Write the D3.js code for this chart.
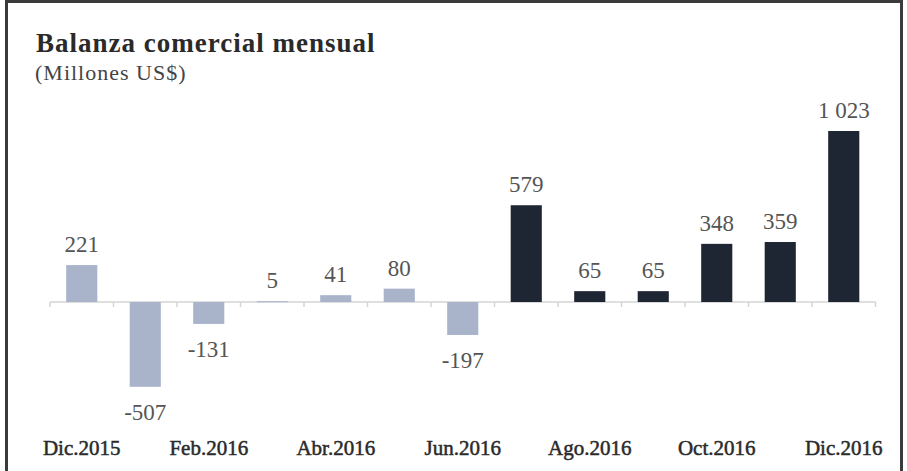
<!DOCTYPE html>
<html>
<head>
<meta charset="utf-8">
<script src="https://cdn.jsdelivr.net/npm/d3@7"></script>
<style>
  body { margin: 0; background: #fff; }
</style>
</head>
<body>
<div id="chart"></div>
<script>
// months shown on the chart, one bar per month
const months = ["Dic.2015", "Ene.2016", "Feb.2016", "Mar.2016", "Abr.2016", "May.2016", "Jun.2016",
                "Jul.2016", "Ago.2016", "Set.2016", "Oct.2016", "Nov.2016", "Dic.2016"];
const balance = [221, -507, -131, 5, 41, 80, -197, 579, 65, 65, 348, 359, 1023];
const valueLabels = ["221", "-507", "-131", "5", "41", "80", "-197", "579", "65", "65", "348", "359", "1 023"];
// only every other month is labelled on the axis
const tickLabels = ["Dic.2015", "Feb.2016", "Abr.2016", "Jun.2016", "Ago.2016", "Oct.2016", "Dic.2016"];
const darkFrom = 7; // bars from Jul.2016 on are dark

const width = 907, height = 471;

const svg = d3.select("#chart").append("svg")
    .attr("width", width)
    .attr("height", height);

// frame (no bottom side visible)
svg.append("path")
    .attr("d", "M6.5,471 V1.5 H901.5 V471")
    .attr("fill", "none")
    .attr("stroke", "#3a3a3a")
    .attr("stroke-width", 3);

svg.append("text")
    .attr("x", 36)
    .attr("y", 52)
    .style("font-family", "'Liberation Serif', serif")
    .style("font-weight", "bold")
    .style("font-size", "27px")
    .style("letter-spacing", "1px")
    .attr("fill", "#2a2a2a")
    .text("Balanza comercial mensual");

svg.append("text")
    .attr("x", 35)
    .attr("y", 80)
    .style("font-family", "'Liberation Serif', serif")
    .style("font-size", "22px")
    .style("letter-spacing", "1px")
    .attr("fill", "#444")
    .text("(Millones US$)");

const x = d3.scaleBand()
    .domain(months)
    .range([50, 875.5])
    .paddingInner(0.51)
    .paddingOuter(0.255);

const y = d3.scaleLinear()
    .domain([-507, 1023])
    .range([386.8, 131]);

const gap = x.step() - x.bandwidth();

// baseline with small ticks at category boundaries
svg.append("line")
    .attr("x1", x.range()[0]).attr("x2", x.range()[1])
    .attr("y1", y(0)).attr("y2", y(0))
    .attr("stroke", "#d4d4d4")
    .attr("stroke-width", 1.5);

const bounds = months.map(m => x(m) - gap / 2).concat([x.range()[1]]);
svg.selectAll(".tick")
    .data(bounds)
    .enter()
    .append("line")
    .attr("class", "tick")
    .attr("x1", d => d).attr("x2", d => d)
    .attr("y1", y(0)).attr("y2", y(0) + 5)
    .attr("stroke", "#d4d4d4")
    .attr("stroke-width", 1.5);

svg.selectAll(".bar")
    .data(balance)
    .enter()
    .append("rect")
    .attr("class", "bar")
    .attr("x", (d, i) => x(months[i]))
    .attr("width", x.bandwidth())
    .attr("y", d => y(Math.max(0, d)))
    .attr("height", d => Math.max(1, Math.abs(y(d) - y(0))))
    .attr("fill", (d, i) => i >= darkFrom ? "#1f2633" : "#a9b4cb");

svg.selectAll(".val")
    .data(balance)
    .enter()
    .append("text")
    .attr("class", "val")
    .attr("x", (d, i) => x(months[i]) + x.bandwidth() / 2)
    .attr("y", d => d >= 0 ? y(d) - 13 : y(d) + 33)
    .attr("text-anchor", "middle")
    .style("font-family", "'Liberation Serif', serif")
    .style("font-size", "23px")
    .attr("fill", "#555")
    .text((d, i) => valueLabels[i]);

// axis labels: regular weight, thin stroke for a semi-bold look
svg.selectAll(".xlab")
    .data(tickLabels)
    .enter()
    .append("text")
    .attr("class", "xlab")
    .attr("x", d => x(d) + x.bandwidth() / 2)
    .attr("y", 455)
    .attr("text-anchor", "middle")
    .style("font-family", "'Liberation Serif', serif")
    .style("font-size", "21px")
    .attr("fill", "#2a2a2a")
    .attr("stroke", "#2a2a2a")
    .attr("stroke-width", 0.5)
    .text(d => d);
</script>
</body>
</html>
